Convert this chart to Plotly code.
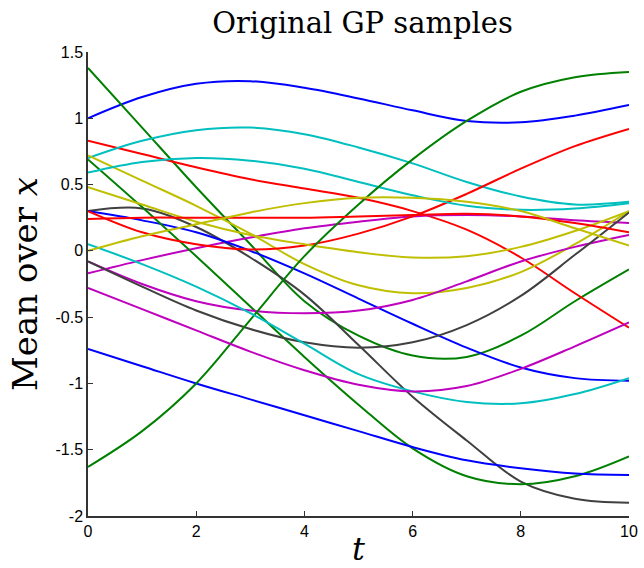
import plotly.graph_objects as go

t = [0, 1, 2, 3, 4, 5, 6, 7, 8, 9, 10]

# series values (value at t = 0..10)
blue_1 = [1.00, 1.16, 1.26, 1.28, 1.23, 1.15, 1.06, 0.98, 0.97, 1.02, 1.10]
blue_2 = [0.30, 0.23, 0.14, 0.00, -0.17, -0.36, -0.55, -0.73, -0.88, -0.96, -0.98]
blue_3 = [-0.74, -0.87, -1.00, -1.12, -1.24, -1.36, -1.48, -1.58, -1.64, -1.68, -1.69]
green_1 = [1.38, 0.93, 0.48, 0.05, -0.38, -0.64, -0.79, -0.80, -0.64, -0.38, -0.14]
green_2 = [0.69, 0.33, -0.04, -0.42, -0.80, -1.16, -1.49, -1.70, -1.76, -1.70, -1.55]
green_3 = [-1.63, -1.36, -1.00, -0.52, -0.04, 0.35, 0.69, 0.98, 1.20, 1.31, 1.35]
red_1 = [0.83, 0.73, 0.63, 0.54, 0.47, 0.40, 0.30, 0.16, -0.05, -0.32, -0.58]
red_2 = [0.30, 0.14, 0.05, 0.01, 0.04, 0.13, 0.26, 0.43, 0.62, 0.79, 0.92]
red_3 = [0.24, 0.25, 0.25, 0.25, 0.25, 0.26, 0.27, 0.28, 0.26, 0.21, 0.14]
cyan_1 = [0.70, 0.83, 0.91, 0.93, 0.88, 0.78, 0.66, 0.52, 0.41, 0.35, 0.37]
cyan_2 = [0.59, 0.67, 0.70, 0.68, 0.62, 0.52, 0.42, 0.34, 0.31, 0.32, 0.36]
cyan_3 = [0.05, -0.10, -0.27, -0.47, -0.70, -0.93, -1.06, -1.14, -1.15, -1.08, -0.96]
magenta_1 = [-0.17, -0.07, 0.02, 0.10, 0.17, 0.22, 0.26, 0.27, 0.26, 0.23, 0.21]
magenta_2 = [-0.08, -0.25, -0.38, -0.45, -0.47, -0.45, -0.37, -0.23, -0.08, 0.03, 0.12]
magenta_3 = [-0.28, -0.44, -0.60, -0.76, -0.90, -1.01, -1.06, -1.02, -0.89, -0.72, -0.54]
yellow_1 = [0.72, 0.53, 0.34, 0.13, -0.10, -0.26, -0.32, -0.28, -0.16, 0.05, 0.30]
yellow_2 = [0.48, 0.35, 0.22, 0.12, 0.05, -0.01, -0.05, -0.04, 0.03, 0.15, 0.30]
yellow_3 = [0.00, 0.11, 0.20, 0.29, 0.36, 0.40, 0.40, 0.37, 0.30, 0.17, 0.04]
black_1 = [0.30, 0.32, 0.18, -0.05, -0.33, -0.71, -1.10, -1.43, -1.74, -1.87, -1.90]
black_2 = [-0.08, -0.27, -0.45, -0.59, -0.69, -0.73, -0.69, -0.56, -0.34, -0.03, 0.29]

x_ticks = [0, 2, 4, 6, 8, 10]
y_ticks = [-2, -1.5, -1, -0.5, 0, 0.5, 1, 1.5]
y_tick_labels = ["-2", "-1.5", "-1", "-0.5", "0", "0.5", "1", "1.5"]

B = "rgb(0,0,255)"
G = "rgb(0,128,0)"
R = "rgb(255,0,0)"
C = "rgb(0,191,191)"
M = "rgb(191,0,191)"
Y = "rgb(191,191,0)"
K = "rgb(64,64,64)"

series = [
    (blue_1, B), (green_1, G), (red_1, R), (cyan_1, C), (magenta_1, M), (yellow_1, Y), (black_1, K),
    (blue_2, B), (green_2, G), (red_2, R), (cyan_2, C), (magenta_2, M), (yellow_2, Y), (black_2, K),
    (blue_3, B), (green_3, G), (red_3, R), (cyan_3, C), (magenta_3, M), (yellow_3, Y),
]

SERIF = "DejaVu Serif, Liberation Serif, serif"
SANS = "Liberation Sans, Arial, sans-serif"

fig = go.Figure()
for vals, col in series:
    fig.add_trace(go.Scatter(x=t, y=vals, mode="lines",
                             line=dict(color=col, width=2, shape="spline", smoothing=1.0),
                             showlegend=False, hoverinfo="skip"))

fig.update_layout(
    width=644, height=568,
    margin=dict(l=88, r=15, t=52, b=52, autoexpand=False),
    paper_bgcolor="white", plot_bgcolor="white",
    title=dict(text="Original GP samples", x=0.563, xanchor="center", y=0.96, yanchor="middle",
               font=dict(family=SERIF, size=29, color="black")),
    xaxis=dict(range=[0, 10], tickvals=x_ticks, ticks="inside", ticklen=5, tickcolor="#333",
               automargin=False,
               showline=True, linecolor="#333", linewidth=1.5, showgrid=False, zeroline=False,
               tickfont=dict(family=SANS, size=16, color="black"),
               title=dict(text="<i>t</i>", standoff=0,
                          font=dict(family=SERIF, size=32, color="black"))),
    yaxis=dict(range=[-2, 1.5], tickvals=y_ticks, ticktext=y_tick_labels, ticks="inside", ticklen=5,
               automargin=False,
               tickcolor="#333", showline=True, linecolor="#333", linewidth=1.5, showgrid=False,
               zeroline=False,
               tickfont=dict(family=SANS, size=16, color="black"),
               title=dict(text="Mean over <i>x</i>", standoff=8,
                          font=dict(family=SERIF, size=34, color="black"))),
)

fig.write_html("out.html")
